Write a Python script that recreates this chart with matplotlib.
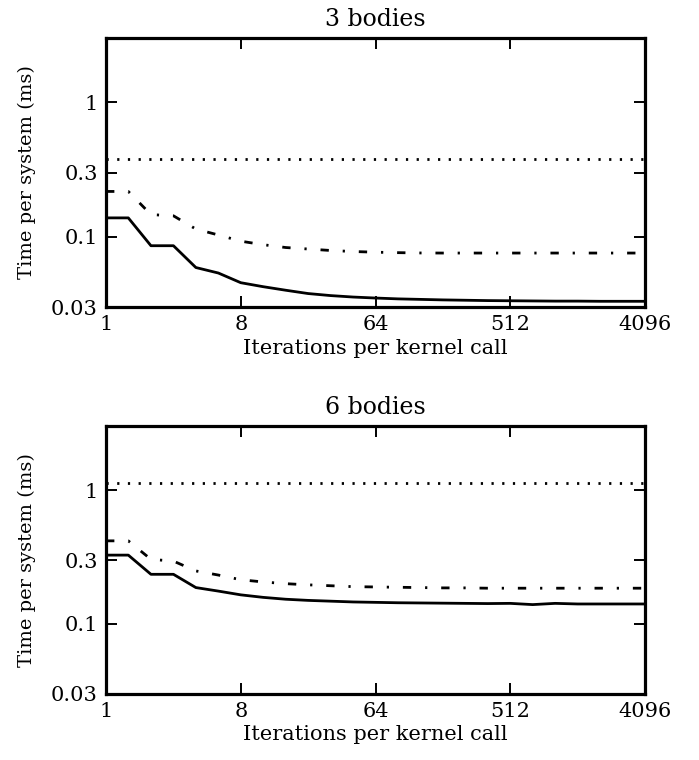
import numpy as np
import matplotlib
matplotlib.use('Agg')
import matplotlib.pyplot as plt
from matplotlib.ticker import FixedLocator, FixedFormatter, NullLocator

plt.rcParams['font.family'] = ['DejaVu Serif']
plt.rcParams['mathtext.fontset'] = 'dejavuserif'

# Iterations per kernel call (half-octave steps)
iters = [1, 1.41, 2, 2.83, 4, 5.66, 8, 11.3, 16, 22.6, 32, 45.3, 64, 90.5,
         128, 181, 256, 362, 512, 724, 1024, 1448, 2048, 2896, 4096]

# 3 bodies
solid_3 = [0.138, 0.138, 0.0857, 0.0857, 0.059, 0.0537, 0.0455, 0.0425, 0.0400,
           0.0378, 0.0365, 0.0356, 0.0350, 0.0345, 0.0342, 0.0339, 0.0337, 0.0335,
           0.0334, 0.0333, 0.0332, 0.0332, 0.0331, 0.0331, 0.0331]
dashdot_3 = [0.217, 0.217, 0.146, 0.143, 0.114, 0.103, 0.0926, 0.0872, 0.0831,
             0.081, 0.079, 0.0776, 0.0767, 0.0761, 0.0757, 0.0756, 0.0756, 0.0756,
             0.0756, 0.0756, 0.0756, 0.0756, 0.0756, 0.0756, 0.0756]
dotted_3 = 0.375

# 6 bodies
solid_6 = [0.327, 0.327, 0.235, 0.235, 0.187, 0.176, 0.165, 0.158, 0.153, 0.150,
           0.148, 0.146, 0.145, 0.144, 0.1435, 0.143, 0.1425, 0.142, 0.1425, 0.1395,
           0.1425, 0.141, 0.141, 0.141, 0.141]
dashdot_6 = [0.418, 0.418, 0.304, 0.295, 0.249, 0.232, 0.214, 0.206, 0.200, 0.196,
             0.193, 0.190, 0.189, 0.188, 0.187, 0.186, 0.186, 0.185, 0.185, 0.185,
             0.185, 0.185, 0.185, 0.185, 0.185]
dotted_6 = 1.13

xticks = [1, 8, 64, 512, 4096]
yticks = [0.03, 0.1, 0.3, 1]
ytick_labels = ['0.03', '0.1', '0.3', '1']

fig = plt.figure(figsize=(6.99, 7.6), dpi=100)
ax1 = fig.add_axes([0.1517, 0.596, 0.771, 0.354])
ax2 = fig.add_axes([0.1517, 0.087, 0.771, 0.352])

panels = [(ax1, '3 bodies', solid_3, dashdot_3, dotted_3),
          (ax2, '6 bodies', solid_6, dashdot_6, dotted_6)]

for ax, title, solid, dashdot, dotted in panels:
    ax.plot(iters, solid, color='black', lw=2.0, ls='-')
    ax.plot(iters, dashdot, color='black', lw=2.0, ls=(0, (3.0, 5.0, 0.8, 5.0)))
    ax.plot([iters[0], iters[-1]], [dotted, dotted], color='black', lw=2.0,
            ls=(0, (0.8, 3.05)))
    ax.set_xscale('log', base=2)
    ax.set_yscale('log')
    ax.set_xlim(1, 4096)
    ax.set_ylim(0.03, 3)
    ax.xaxis.set_major_locator(FixedLocator(xticks))
    ax.xaxis.set_major_formatter(FixedFormatter([str(t) for t in xticks]))
    ax.xaxis.set_minor_locator(NullLocator())
    ax.yaxis.set_major_locator(FixedLocator(yticks))
    ax.yaxis.set_major_formatter(FixedFormatter(ytick_labels))
    ax.yaxis.set_minor_locator(NullLocator())
    ax.tick_params(direction='in', length=8, width=1.4, top=True, right=True,
                   labelsize=15, pad=6)
    for s in ax.spines.values():
        s.set_linewidth(2.3)
    ax.set_title(title, fontsize=17, pad=9)
    ax.set_xlabel('Iterations per kernel call', fontsize=15, labelpad=3)
    ax.set_ylabel('Time per system (ms)', fontsize=14, labelpad=11)

fig.savefig('out.png', dpi=100)
